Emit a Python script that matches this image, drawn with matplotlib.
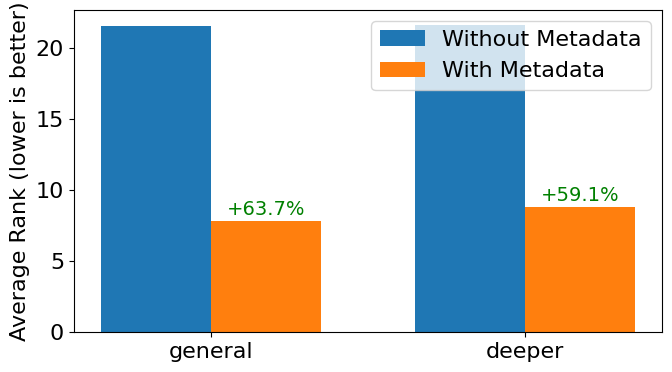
import numpy as np
import matplotlib.pyplot as plt

# Données
categories = ['general', 'deeper']
without_meta = [21.55, 21.6]
with_meta = [7.82, 8.8]
gain_labels = ['+63.7%', '+59.1%']

x = np.arange(len(categories))
width = 0.35

fig, ax = plt.subplots(figsize=(6.72, 3.72), dpi=100)
ax.bar(x - width/2, without_meta, width, label='Without Metadata', color='#1f77b4')
ax.bar(x + width/2, with_meta, width, label='With Metadata', color='#ff7f0e')

# Annotations d'amélioration au-dessus des barres orange
for xi, val, txt in zip(x, with_meta, gain_labels):
    ax.text(xi + width/2, val + 0.15, txt, ha='center', va='bottom',
            color='green', fontsize=14)

ax.set_xticks(x)
ax.set_xticklabels(categories)
ax.set_ylabel('Average Rank (lower is better)', fontsize=16)
ax.tick_params(labelsize=16)
ax.legend(fontsize=16, loc='upper right')

fig.subplots_adjust(left=0.11, right=0.985, top=0.973, bottom=0.108)
fig.savefig('out.png', dpi=100)
